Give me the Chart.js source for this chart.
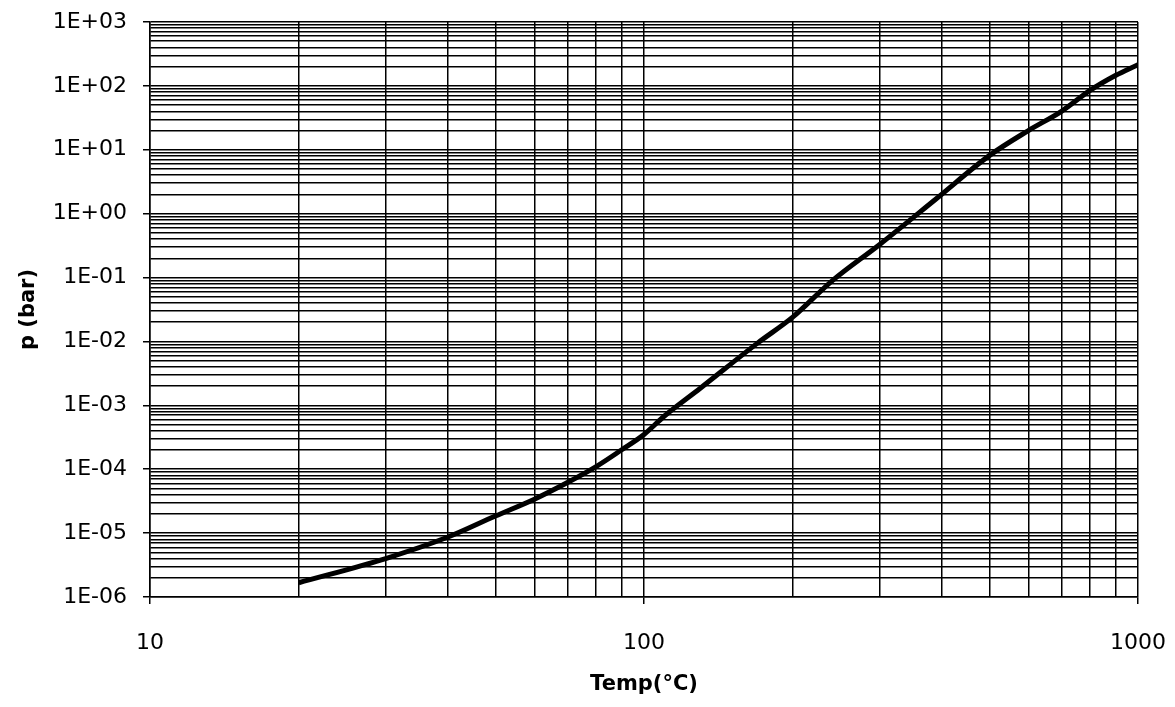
<!DOCTYPE html>
<html>
<head>
<meta charset="utf-8">
<script src="https://cdn.jsdelivr.net/npm/chart.js@4/dist/chart.umd.min.js"></script>
<style>
  html, body { margin: 0; padding: 0; background: #fff; }
  #wrap { width: 1175px; height: 707px; }
</style>
</head>
<body>
<div id="wrap"><canvas id="vapourChart"></canvas></div>
<script>
// Data
const temps = [20, 30, 40, 50, 60, 70, 80, 90, 100, 110, 130, 170, 200, 240, 300, 390, 500, 600, 700, 800, 900, 1000];
const pressures = [1.67e-6, 4.0e-6, 8.6e-6, 1.85e-5, 3.4e-5, 6.2e-5, 1.1e-4, 2.0e-4, 3.5e-4, 6.8e-4, 1.85e-3, 9.5e-3, 2.4e-2, 8.8e-2, 0.33, 1.7, 8.1, 20, 40, 85, 145, 215];

// Axis ticks
const xDecades = [10, 100, 1000];
const xTickLabels = ['10', '100', '1000'];
const yDecades = [1e-6, 1e-5, 1e-4, 1e-3, 1e-2, 1e-1, 1e0, 1e1, 1e2, 1e3];
const yTickLabels = ['1E-06', '1E-05', '1E-04', '1E-03', '1E-02', '1E-01', '1E+00', '1E+01', '1E+02', '1E+03'];
const minorSteps = [1, 2, 3, 4, 5, 6, 7, 8, 9];

function logTicks(decades) {
    const vals = [];
    decades.forEach(function(d, i) {
        if (i === decades.length - 1) { vals.push(d); return; }
        minorSteps.forEach(function(m) { vals.push(parseFloat((m * d).toPrecision(6))); });
    });
    return vals;
}

function decadeIndex(list, v) {
    for (let i = 0; i < list.length; i++) {
        if (Math.abs(list[i] - v) / list[i] < 1e-6) return i;
    }
    return -1;
}

const fontFamily = '"DejaVu Sans", sans-serif';

const ctx = document.getElementById('vapourChart').getContext('2d');
new Chart(ctx, {
    type: 'line',
    data: {
        datasets: [{
            label: 'p',
            data: temps.map(function(t, i) { return { x: t, y: pressures[i] }; }),
            borderColor: '#000',
            borderWidth: 5,
            pointRadius: 0,
            cubicInterpolationMode: 'monotone',
            fill: false
        }]
    },
    options: {
        responsive: true,
        maintainAspectRatio: false,
        animation: false,
        layout: { padding: { top: 22, right: 37, left: 0, bottom: 0 } },
        plugins: {
            legend: { display: false },
            tooltip: { enabled: false }
        },
        scales: {
            x: {
                type: 'logarithmic',
                min: 10,
                max: 1000,
                afterBuildTicks: function(scale) {
                    scale.ticks = logTicks(xDecades).map(function(v) { return { value: v }; });
                },
                afterFit: function(scale) {
                    scale.height = 110;
                    scale.paddingLeft = 0;
                    scale.paddingRight = 0;
                },
                ticks: {
                    autoSkip: false,
                    maxRotation: 0,
                    padding: 26,
                    color: '#000',
                    font: { family: fontFamily, size: 22 },
                    callback: function(value) {
                        const i = decadeIndex(xDecades, value);
                        return i >= 0 ? xTickLabels[i] : '';
                    }
                },
                grid: {
                    color: '#000',
                    lineWidth: 1.5,
                    tickLength: 7,
                    tickColor: function(c) {
                        return c.tick && decadeIndex(xDecades, c.tick.value) >= 0 ? '#000' : 'rgba(0,0,0,0)';
                    }
                },
                border: { color: '#000', width: 1.5 },
                title: {
                    display: true,
                    text: 'Temp(°C)',
                    color: '#000',
                    font: { family: fontFamily, size: 21, weight: 'bold' },
                    padding: { top: 0, bottom: 10 }
                }
            },
            y: {
                type: 'logarithmic',
                min: 1e-6,
                max: 1e3,
                afterBuildTicks: function(scale) {
                    scale.ticks = logTicks(yDecades).map(function(v) { return { value: v }; });
                },
                afterFit: function(scale) {
                    scale.width = 150;
                    scale.paddingTop = 0;
                    scale.paddingBottom = 0;
                },
                ticks: {
                    autoSkip: false,
                    padding: 16,
                    color: '#000',
                    font: { family: fontFamily, size: 22 },
                    callback: function(value) {
                        const i = decadeIndex(yDecades, value);
                        return i >= 0 ? yTickLabels[i] : '';
                    }
                },
                grid: {
                    color: '#000',
                    lineWidth: 1.5,
                    tickLength: 7,
                    tickColor: function(c) {
                        return c.tick && decadeIndex(yDecades, c.tick.value) >= 0 ? '#000' : 'rgba(0,0,0,0)';
                    }
                },
                border: { color: '#000', width: 1.5 },
                title: {
                    display: true,
                    text: 'p (bar)',
                    color: '#000',
                    font: { family: fontFamily, size: 21, weight: 'bold' },
                    padding: { top: 16, bottom: 0 }
                }
            }
        }
    }
});
</script>
</body>
</html>
